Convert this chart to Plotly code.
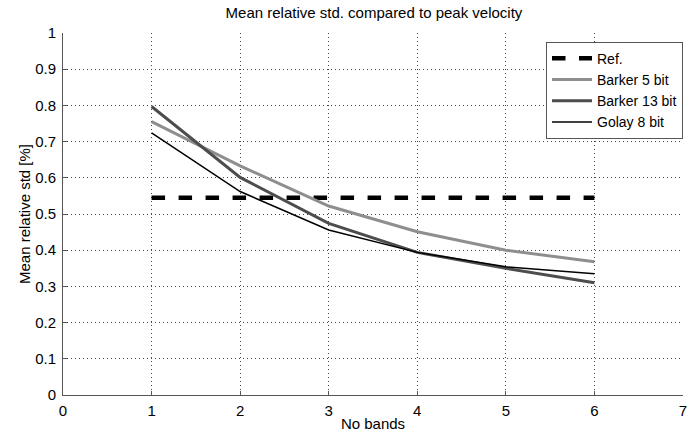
import plotly.graph_objects as go

bands = [1, 2, 3, 4, 5, 6]
ref_value = [0.545, 0.545, 0.545, 0.545, 0.545, 0.545]
barker5 = [0.755, 0.633, 0.522, 0.451, 0.400, 0.368]
barker13 = [0.797, 0.601, 0.474, 0.394, 0.350, 0.310]
golay8 = [0.724, 0.562, 0.456, 0.394, 0.354, 0.335]
x_ticks = [0, 1, 2, 3, 4, 5, 6, 7]
y_ticks = [0, 0.1, 0.2, 0.3, 0.4, 0.5, 0.6, 0.7, 0.8, 0.9, 1]
y_tick_labels = ["0", "0.1", "0.2", "0.3", "0.4", "0.5", "0.6", "0.7", "0.8", "0.9", "1"]

FONT = "Liberation Sans, Arial, sans-serif"
FS = 15

fig = go.Figure()
fig.add_trace(go.Scatter(x=bands, y=ref_value, mode="lines", name="Ref.",
                         line=dict(color="black", width=4.5, dash="dash")))
fig.add_trace(go.Scatter(x=bands, y=barker5, mode="lines", name="Barker 5 bit",
                         line=dict(color="#8e8e8e", width=3)))
fig.add_trace(go.Scatter(x=bands, y=barker13, mode="lines", name="Barker 13 bit",
                         line=dict(color="#4d4d4d", width=3)))
fig.add_trace(go.Scatter(x=bands, y=golay8, mode="lines", name="Golay 8 bit",
                         line=dict(color="black", width=1.5)))

axis_common = dict(
    showgrid=True, gridcolor="#444444", griddash="1px,3px", gridwidth=1,
    zeroline=False, showline=True, linecolor="#555555", linewidth=1,
    ticks="inside", ticklen=4, tickcolor="#555555",
    tickfont=dict(family=FONT, size=FS, color="black"),
    automargin=False,
)

fig.update_layout(
    width=699, height=439,
    margin=dict(l=63, r=16, t=33, b=44),
    paper_bgcolor="white", plot_bgcolor="white",
    title=dict(text="Mean relative std. compared to peak velocity",
               x=0.535, xanchor="center", y=0.972, yanchor="middle",
               font=dict(family=FONT, size=FS, color="black")),
    xaxis=dict(range=[0, 7], tickvals=x_ticks, ticklabelstandoff=2,
               title=dict(text="No bands", font=dict(family=FONT, size=FS, color="black"), standoff=0),
               **axis_common),
    yaxis=dict(range=[0, 1], tickvals=y_ticks, ticktext=y_tick_labels, ticklabelstandoff=3,
               title=dict(text="Mean relative std [%]", font=dict(family=FONT, size=FS, color="black"), standoff=0),
               **axis_common),
    legend=dict(x=1.0, y=0.976, xanchor="right", yanchor="top",
                bgcolor="white", bordercolor="#555555", borderwidth=1,
                font=dict(family=FONT, size=14, color="black"),
                tracegroupgap=0, itemwidth=40),
    showlegend=True,
)

fig.write_html("out.html",
               config={"displayModeBar": False},
               post_script="document.body.style.margin='0';document.body.style.padding='0';")
